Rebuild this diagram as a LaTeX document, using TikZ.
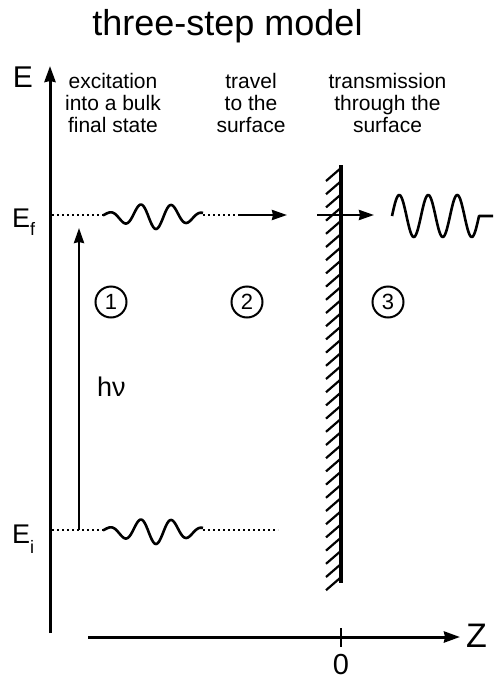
\documentclass[tikz,border=0pt]{standalone}
\usepackage{fontspec}
\setmainfont{Liberation Sans}
\usetikzlibrary{arrows.meta}

\tikzset{
  axisline/.style={line width=3pt,-{Stealth[length=16pt,width=11pt,inset=1pt]}},
  levelline/.style={line width=2.4pt,dash pattern=on 2.4pt off 2.6pt},
  waveline/.style={line width=2.6pt,line join=round},
  flyarrow/.style={line width=2.6pt,-{Stealth[length=15pt,width=10pt,inset=1pt]}},
  steptext/.style={align=center,inner sep=0pt,font=\fontsize{21}{22}\selectfont},
  stepnum/.style={circle,draw,line width=2pt,minimum size=31pt,inner sep=0pt,font=\fontsize{22}{22}\selectfont}
}

\begin{document}
\begin{tikzpicture}[x=1pt,y=1pt,yscale=-1,xscale=1]
\useasboundingbox (0,0) rectangle (493,680);
% Text Node
\node (title) [anchor=base,inner sep=0pt,font=\fontsize{36}{36}\selectfont] at (227.5,35) {three-step model};
% Text Node
\node (step1) [steptext] at (113,103) {excitation\\into a bulk\\final state};
\node (step2) [steptext] at (251,103) {travel\\to the\\surface};
\node (step3) [steptext] at (387.5,103) {transmission\\through the\\surface};

%Straight Lines (axes)
\coordinate (Ebot) at (50,633);
\coordinate (Etop) at (50,66);
\draw [axisline] (Ebot) -- (Etop);
\coordinate (Zleft) at (88,637);
\coordinate (Zright) at (460,637);
\draw [axisline] (Zleft) -- (Zright);
\draw [line width=2.4pt] (341,628) -- (341,647);

% Text Node
\node (Elab) [anchor=base,inner sep=0pt,font=\fontsize{30}{30}\selectfont] at (23,87) {E};
\node (Zlab) [anchor=base west,inner sep=0pt,font=\fontsize{34}{34}\selectfont] at (466,647) {Z};
\node (zero) [anchor=base,inner sep=0pt,font=\fontsize{29}{29}\selectfont] at (341,674) {0};
\node (Eflab) [anchor=base west,inner sep=0pt,font=\fontsize{27}{27}\selectfont] at (12,227) {E\raisebox{-8pt}{\fontsize{18}{18}\selectfont f}};
\node (Eilab) [anchor=base west,inner sep=0pt,font=\fontsize{27}{27}\selectfont] at (12,543) {E\raisebox{-10pt}{\fontsize{18}{18}\selectfont i}};

%Shape: surface with hatching
\coordinate (walltop) at (341,165);
\coordinate (wallbot) at (341,583);
\draw [line width=3.4pt] (walltop) -- (wallbot);
\foreach \i in {0,...,31}
  \draw [line width=2.2pt] (326,181+\i*13.2) -- (341,168+\i*13.2);

% final state level
\coordinate (Ef) at (52,215);
\coordinate (Efw) at (103,215);
\coordinate (Efe) at (203,215);
\coordinate (Efa) at (240,215);
\coordinate (Efb) at (287,215);
\draw [levelline] (Ef) -- (Efw);
\draw [waveline] plot[domain=103:203,samples=120,smooth] (\x,{216+13*exp(-((\x-155)/40)^2)*cos(11.613*(\x-156))});
\draw [levelline] (Efe) -- (Efa);
\draw [flyarrow] (Efa) -- (Efb);

% transmission
\coordinate (Tin) at (317,215);
\coordinate (Tout) at (374,215);
\draw [flyarrow] (Tin) -- (Tout);
\draw [waveline] plot[domain=392:479,samples=120,smooth] (\x,{216-21*sin(12.414*(\x-392))}) -- (493,216);

% initial state level
\coordinate (Ei) at (52,530);
\coordinate (Eiw) at (103,530);
\coordinate (Eie) at (203,530);
\coordinate (Eiend) at (278,530);
\draw [levelline] (Ei) -- (Eiw);
\draw [waveline] plot[domain=103:203,samples=120,smooth] (\x,{531+13*exp(-((\x-155)/40)^2)*cos(11.613*(\x-156))});
\draw [levelline] (Eie) -- (Eiend);

% photon excitation
\coordinate (hvfoot) at (79,530);
\coordinate (hvtip) at (79,228);
\draw [flyarrow] (hvfoot) -- (hvtip);
\node (hv) [anchor=base west,inner sep=0pt,font=\fontsize{27}{27}\selectfont] at (97,396) {hν};

% circled step numbers
\node (num1) [stepnum] at (111,302) {1};
\node (num2) [stepnum] at (247,302) {2};
\node (num3) [stepnum] at (388,302) {3};
\end{tikzpicture}
\end{document}
